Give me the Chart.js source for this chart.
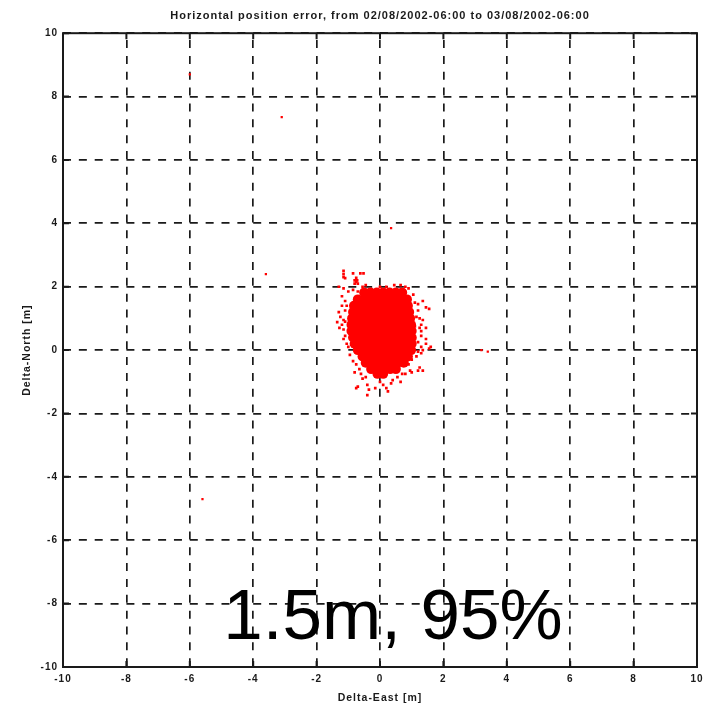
<!DOCTYPE html>
<html>
<head>
<meta charset="utf-8">
<script src="https://cdn.jsdelivr.net/npm/chart.js@4"></script>
<style>
html,body{margin:0;padding:0;background:#fff;width:704px;height:704px;overflow:hidden}
#wrap{position:relative;width:704px;height:704px}
#c{filter:blur(0.5px)}
#note{position:absolute;left:0;top:574px;width:786px;text-align:center;font:71px "Liberation Sans",Arial,sans-serif;color:#000;line-height:82px}
</style>
</head>
<body>
<div id="wrap"><canvas id="c" width="704" height="704"></canvas><div id="note">1.5m, 95%</div></div>
<script>
const titleText = "Horizontal position error, from 02/08/2002-06:00 to 03/08/2002-06:00";
const xLabel = "Delta-East [m]";
const yLabel = "Delta-North [m]";
const tickValues = [-10,-8,-6,-4,-2,0,2,4,6,8,10];

const corePoints = [
 [-.5,1.82],[-.3,1.82],[-.1,1.82],[.1,1.82],[.3,1.82],[.5,1.82],[.7,1.82],
 [-.7,1.6],[-.5,1.6],[-.3,1.6],[-.1,1.6],[.1,1.6],[.3,1.6],[.5,1.6],[.7,1.6],[.85,1.6],
 [-.82,1.4],[-.6,1.4],[-.4,1.4],[-.2,1.4],[0,1.4],[.2,1.4],[.4,1.4],[.6,1.4],[.8,1.4],[.88,1.4],
 [-.85,1.2],[-.65,1.2],[-.45,1.2],[-.25,1.2],[-.05,1.2],[.15,1.2],[.35,1.2],[.55,1.2],[.75,1.2],[.92,1.2],
 [-.88,1],[-.68,1],[-.48,1],[-.28,1],[-.08,1],[.12,1],[.32,1],[.52,1],[.72,1],[.85,1],[.95,1],
 [-.9,.8],[-.7,.8],[-.5,.8],[-.3,.8],[-.1,.8],[.1,.8],[.3,.8],[.5,.8],[.7,.8],[.85,.8],[.98,.8],
 [-.9,.6],[-.7,.6],[-.5,.6],[-.3,.6],[-.1,.6],[.1,.6],[.3,.6],[.5,.6],[.7,.6],[.85,.6],[1,.6],
 [-.85,.4],[-.65,.4],[-.45,.4],[-.25,.4],[-.05,.4],[.15,.4],[.35,.4],[.55,.4],[.75,.4],[.88,.4],[1,.4],
 [-.8,.2],[-.6,.2],[-.4,.2],[-.2,.2],[0,.2],[.2,.2],[.4,.2],[.6,.2],[.8,.2],[1,.2],
 [-.7,0],[-.5,0],[-.3,0],[-.1,0],[.1,0],[.3,0],[.5,0],[.7,0],[.85,0],[.98,0],
 [-.55,-.2],[-.35,-.2],[-.15,-.2],[.05,-.2],[.25,-.2],[.45,-.2],[.65,-.2],[.88,-.2],
 [-.45,-.4],[-.25,-.4],[-.05,-.4],[.15,-.4],[.35,-.4],[.55,-.4],[.75,-.4],
 [-.28,-.6],[-.08,-.6],[.12,-.6],[.32,-.6],[.5,-.6],
 [-.08,-.75],[.1,-.75]
];

const edgePoints = [
 [-1.15,2.5],[-1.15,2.4],[-1.15,2.3],[-1.1,2.27],[-.85,2.42],[-.62,2.42],[-.52,2.42],
 [-.8,2.2],[-.72,2.2],[-.8,2.1],[-.7,2.1],[-.75,2.28],[-.75,2.15],[-1.3,2],[-1.15,1.95],
 [-1,1.85],[-.85,1.9],[-.7,1.85],[-.55,2],[-.45,2.05],[-1.2,1.7],[-1.1,1.55],[-1.2,1.4],
 [-1.05,1.4],[-1.1,1.25],[-1.3,1.2],[-1.25,1.05],[-1.15,.95],[-1.35,.88],[-1.2,.8],[-1.1,.9],
 [-1.28,.7],[-1.15,.65],[-1.1,.45],[-1.15,.35],[-1.05,.2],[-1,.1],[-.95,-.15],[-.85,-.35],
 [-.75,-.45],[-.8,-.7],[-.65,-.6],[-.6,-.75],[-.55,-.9],[-.45,-.85],[-.7,-1.15],[-.75,-1.2],
 [-.4,-1.1],[-.35,-1.25],[-.4,-1.42],[-.15,-1.2],[.2,-1.2],[.25,-1.3],[0,-1],[.1,-1.1],
 [.35,-1.05],[.4,-.95],[.55,-.85],[.65,-1],[.7,-.75],[.8,-.75],[.95,-.65],[1,-.7],[1.2,-.65],
 [1.35,-.65],[1.25,-.55],[1.2,1.45],[1.35,1.55],[1.45,1.35],[1.55,1.3],[1.2,1.25],[1.15,1.05],
 [1.25,1],[1.35,.95],[1.3,.8],[1.25,.7],[1.3,.6],[1.3,.45],[1.45,.7],[1.45,.35],[1.2,.25],
 [1.3,.1],[1.45,.2],[1.55,.05],[1.6,.1],[1.35,0],[1.2,-.05],[1,-.3],[.9,-.45],[1.3,-.1],
 [0,2],[.2,2],[.45,2.05],[.65,2.05],[.8,2],[.9,1.95],[-.1,1.9],[1.05,1.75],[1.1,1.5],[1.1,.35],[1.1,.75],[1.15,-.2]
];

const outlierPoints = [[-6,8.7],[-3.1,7.35],[.35,3.85],[-3.6,2.4],[-5.6,-4.7],[3.2,0],[3.4,-.05]];

const toXY = p => ({x:p[0], y:p[1]});
const inkColor = '#1a1a1a';
const frame = {
  id:'frame',
  beforeDraw(chart){ chart.ctx.letterSpacing = '1px'; },
  afterDraw(chart){
    const a = chart.chartArea, ctx = chart.ctx, len = 6;
    const sx = chart.scales.x, sy = chart.scales.y;
    ctx.save();
    ctx.strokeStyle = inkColor;
    ctx.lineWidth = 2;
    ctx.strokeRect(a.left, a.top, a.width, a.height);
    ctx.beginPath();
    tickValues.forEach(v => {
      const px = sx.getPixelForValue(v), py = sy.getPixelForValue(v);
      ctx.moveTo(px, a.top); ctx.lineTo(px, a.top + len);
      ctx.moveTo(px, a.bottom); ctx.lineTo(px, a.bottom - len);
      ctx.moveTo(a.left, py); ctx.lineTo(a.left + len, py);
      ctx.moveTo(a.right, py); ctx.lineTo(a.right - len, py);
    });
    ctx.stroke();
    ctx.restore();
  }
};
const fontFamily = '"Liberation Sans",Arial,sans-serif';
const gridBase = {color:inkColor, lineWidth:1.7, drawTicks:false, tickLength:0};
const axisTicks = {
  font:{family:fontFamily, size:10, weight:'bold'},
  color:inkColor, autoSkip:false, maxRotation:0, stepSize:2,
};
new Chart(document.getElementById('c'), {
  type:'scatter',
  data:{datasets:[
    {label:'core', data:corePoints.map(toXY), backgroundColor:'#ff0000', borderWidth:0, pointRadius:5, pointHoverRadius:5},
    {label:'edge', data:edgePoints.map(toXY), backgroundColor:'#ff0000', borderWidth:0, pointStyle:'rect', pointRadius:1.9},
    {label:'isolated', data:outlierPoints.map(toXY), backgroundColor:'#ff0000', borderWidth:0, pointStyle:'rect', pointRadius:1.6}
  ]},
  options:{
    responsive:false, animation:false, events:[],
    layout:{padding:{left:0,right:7,top:0,bottom:0}},
    plugins:{
      legend:{display:false}, tooltip:{enabled:false},
      title:{display:true, text:titleText, color:inkColor, fullSize:false,
        font:{family:fontFamily, size:11, weight:'bold'},
        padding:{top:9,bottom:11}}
    },
    scales:{
      x:{type:'linear', min:-10, max:10, position:'bottom',
        grid:gridBase,
        border:{display:false, dash:[8,7.85], dashOffset:9},
        ticks:{...axisTicks, padding:6},
        afterTickToLabelConversion(s){ s.ticks = tickValues.map(v=>({value:v,label:String(v)})); },
        afterFit(s){ s.height = 37; s.paddingLeft = 0; s.paddingRight = 0; },
        title:{display:true, text:xLabel, color:inkColor, padding:{top:4,bottom:0},
          font:{family:fontFamily, size:10.5, weight:'bold'}}},
      y:{type:'linear', min:-10, max:10, position:'left',
        grid:gridBase,
        border:{display:false, dash:[8,7.85]},
        ticks:{...axisTicks, padding:5},
        afterFit(s){ s.width = 63; s.paddingTop = 0; s.paddingBottom = 0; },
        title:{display:true, text:yLabel, color:inkColor, padding:{top:21,bottom:0},
          font:{family:fontFamily, size:10.5, weight:'bold'}}}
    }
  },
  plugins:[frame]
});
</script>
</body>
</html>
